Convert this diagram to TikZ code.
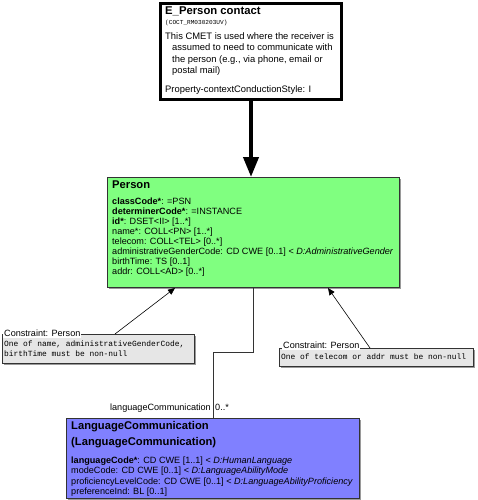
\documentclass[tikz,border=0pt]{standalone}
\usepackage{fontspec}
\setmainfont{Liberation Sans}
\setmonofont{Liberation Mono}
\usetikzlibrary{arrows.meta,shadows,calc}
\definecolor{clsgreen}{HTML}{80FF80}
\definecolor{clsblue}{HTML}{8080FF}
\definecolor{cgray}{HTML}{E6E6E6}
\definecolor{bord}{HTML}{333333}
\definecolor{shad}{HTML}{9A9A9A}
\tikzset{
  umlbox/.style={draw=bord, line width=1pt, anchor=north west, inner sep=0pt,
    drop shadow={shadow xshift=1.2pt, shadow yshift=-1.2pt, fill=shad, opacity=1}},
  txt/.style={anchor=base west, inner sep=0pt, font=\fontsize{9.1}{10}\selectfont},
  ttl/.style={anchor=base west, inner sep=0pt, font=\fontsize{11.2}{13}\selectfont\bfseries},
  mono/.style={anchor=base west, inner sep=0pt, font=\fontsize{7.9}{10}\selectfont\ttfamily},
  clabel/.style={anchor=base west, fill=white, inner xsep=1pt, inner ysep=1.5pt, font=\fontsize{9.1}{10}\selectfont},
  thinarrow/.style={draw=black, line width=0.6pt, -{Triangle[length=7pt,width=6pt]}},
  assoc/.style={draw=bord, line width=0.8pt},
}
\begin{document}
\begin{tikzpicture}[x=1pt,y=-1pt]
\useasboundingbox[fill=white] (0,0) rectangle (478,500);

% E_Person contact box
\node[draw=black, line width=3pt, fill=white, anchor=north west, inner sep=0pt,
      minimum width=181pt, minimum height=96pt] (cmet) at (159,2) {};
\node[anchor=base west, inner sep=0pt, font=\fontsize{11.3}{13}\selectfont\bfseries] (cmett) at (165,15) {E\_Person contact};
\node[anchor=base west, inner sep=0pt, font=\fontsize{6.1}{8}\selectfont\ttfamily] (cmetid) at (165,25) {(COCT\_RM030203UV)};
\node[txt, font=\fontsize{9.4}{11}\selectfont] (cm1) at (165,39.5) {This CMET is used where the receiver is};
\node[txt, font=\fontsize{9.4}{11}\selectfont] (cm2) at (172,51) {assumed to need to communicate with};
\node[txt, font=\fontsize{9.4}{11}\selectfont] (cm3) at (172,62.5) {the person (e.g., via phone, email or};
\node[txt, font=\fontsize{9.4}{11}\selectfont] (cm4) at (172,74) {postal mail)};
\node[txt, font=\fontsize{9.4}{11}\selectfont] (cm5) at (165,93) {Property-contextConductionStyle: I};

% Person box
\node[umlbox, fill=clsgreen, minimum width=292pt, minimum height=110pt] (person) at (107,177) {};
\node[ttl] (pt) at (112,188) {Person};
\node[txt] (p1) at (112,204) {\textbf{classCode*}: =PSN};
\node[txt] (p2) at (112,214) {\textbf{determinerCode*}: =INSTANCE};
\node[txt] (p3) at (112,224) {\textbf{id*}: DSET<II> [1..*]};
\node[txt] (p4) at (112,234) {name*: COLL<PN> [1..*]};
\node[txt] (p5) at (112,244) {telecom: COLL<TEL> [0..*]};
\node[txt] (p6) at (112,254) {administrativeGenderCode: CD CWE [0..1] < \textit{D:AdministrativeGender}};
\node[txt] (p7) at (112,264) {birthTime: TS [0..1]};
\node[txt] (p8) at (112,274) {addr: COLL<AD> [0..*]};

% thick arrow
\draw[line width=4pt, -{Triangle[length=20pt,width=15pt]}] (cmet.south) -- (cmet.south |- person.north);

% Constraint 1
\node[umlbox, fill=cgray, minimum width=192pt, minimum height=29pt] (c1) at (2,334) {};
\node[clabel] (c1l) at (3,336) {Constraint: Person};
\node[mono] (c1a) at (4,346.5) {One of name, administrativeGenderCode,};
\node[mono] (c1b) at (4,356.5) {birthTime must be non-null};

% Constraint 2
\node[umlbox, fill=cgray, minimum width=194pt, minimum height=18pt] (c2) at (279,348) {};
\node[clabel] (c2l) at (282,348) {Constraint: Person};
\node[mono] (c2a) at (281,359.5) {One of telecom or addr must be non-null};

% constraint arrows
\coordinate (c1top) at ($(c1.north west)+(113,0)$);
\coordinate (c1end) at ($(person.south west)+(68,0)$);
\draw[thinarrow] (c1top) -- (c1end);
\coordinate (c2top) at ($(c2.north west)+(91,0)$);
\coordinate (c2end) at ($(person.south west)+(221,0)$);
\draw[thinarrow] (c2top) -- (c2end);

% LanguageCommunication box
\node[umlbox, fill=clsblue, minimum width=293pt, minimum height=80pt] (lang) at (66,418) {};
\node[ttl] (lt1) at (71,429) {LanguageCommunication};
\node[ttl] (lt2) at (71,445) {(LanguageCommunication)};
\node[txt] (l1) at (71,463) {\textbf{languageCode*}: CD CWE [1..1] < \textit{D:HumanLanguage}};
\node[txt] (l2) at (71,473.5) {modeCode: CD CWE [0..1] < \textit{D:LanguageAbilityMode}};
\node[txt] (l3) at (71,484) {proficiencyLevelCode: CD CWE [0..1] < \textit{D:LanguageAbilityProficiency}};
\node[txt] (l4) at (71,494.5) {preferenceInd: BL [0..1]};

% association
\coordinate (as1) at ($(person.south west)+(146,0)$);
\coordinate (as2) at (253,352);
\coordinate (as3) at (213,352);
\coordinate (as4) at ($(lang.north west)+(147,0)$);
\draw[assoc] (as1) -- (as2) -- (as3) -- (as4);
\node[anchor=base east, inner sep=0pt, font=\fontsize{9.1}{10}\selectfont] (aname) at (211,410) {languageCommunication};
\node[anchor=base west, inner sep=0pt, font=\fontsize{9.1}{10}\selectfont] (amult) at (215,410) {0..*};
\end{tikzpicture}
\end{document}
